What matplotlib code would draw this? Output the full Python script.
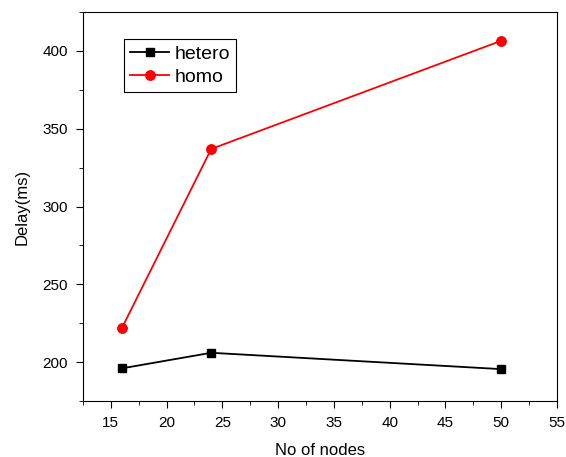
import matplotlib
matplotlib.use('Agg')
import matplotlib.pyplot as plt
from matplotlib.ticker import MultipleLocator

plt.rcParams['font.family'] = ['Liberation Sans', 'DejaVu Sans']

# 데이터
nodes = [16, 24, 50]
hetero = [196, 206, 195.5]
homo = [222, 337, 406.5]

fig = plt.figure(figsize=(5.66, 4.57), dpi=100)
ax = fig.add_axes([0.1466, 0.1225, 0.8374, 0.8512])

ax.plot(nodes, hetero, color='black', marker='s', markersize=5.8, linewidth=1.3, label='hetero')
ax.plot(nodes, homo, color='red', marker='o', markersize=6.8, linewidth=1.3, label='homo')

ax.set_xlim(12.5, 55)
ax.set_ylim(175, 425)
ax.xaxis.set_major_locator(MultipleLocator(5))
ax.xaxis.set_minor_locator(MultipleLocator(2.5))
ax.yaxis.set_major_locator(MultipleLocator(50))
ax.yaxis.set_minor_locator(MultipleLocator(25))
ax.tick_params(which='both', direction='out', top=False, right=False, labelsize=11)
ax.tick_params(which='major', length=5, pad=6)
ax.tick_params(which='minor', length=3)

ax.set_xlabel('No of nodes', fontsize=12, labelpad=9)
ax.set_ylabel('Delay(ms)', fontsize=12, labelpad=9)

leg = ax.legend(loc='upper left', bbox_to_anchor=(0.075, 0.945), fontsize=14, fancybox=False,
                framealpha=1, edgecolor='black', handlelength=2.0, borderpad=0.3,
                labelspacing=0.3, handletextpad=0.3, borderaxespad=0.3)
leg.get_frame().set_linewidth(0.8)

plt.savefig('out.png', dpi=100)
